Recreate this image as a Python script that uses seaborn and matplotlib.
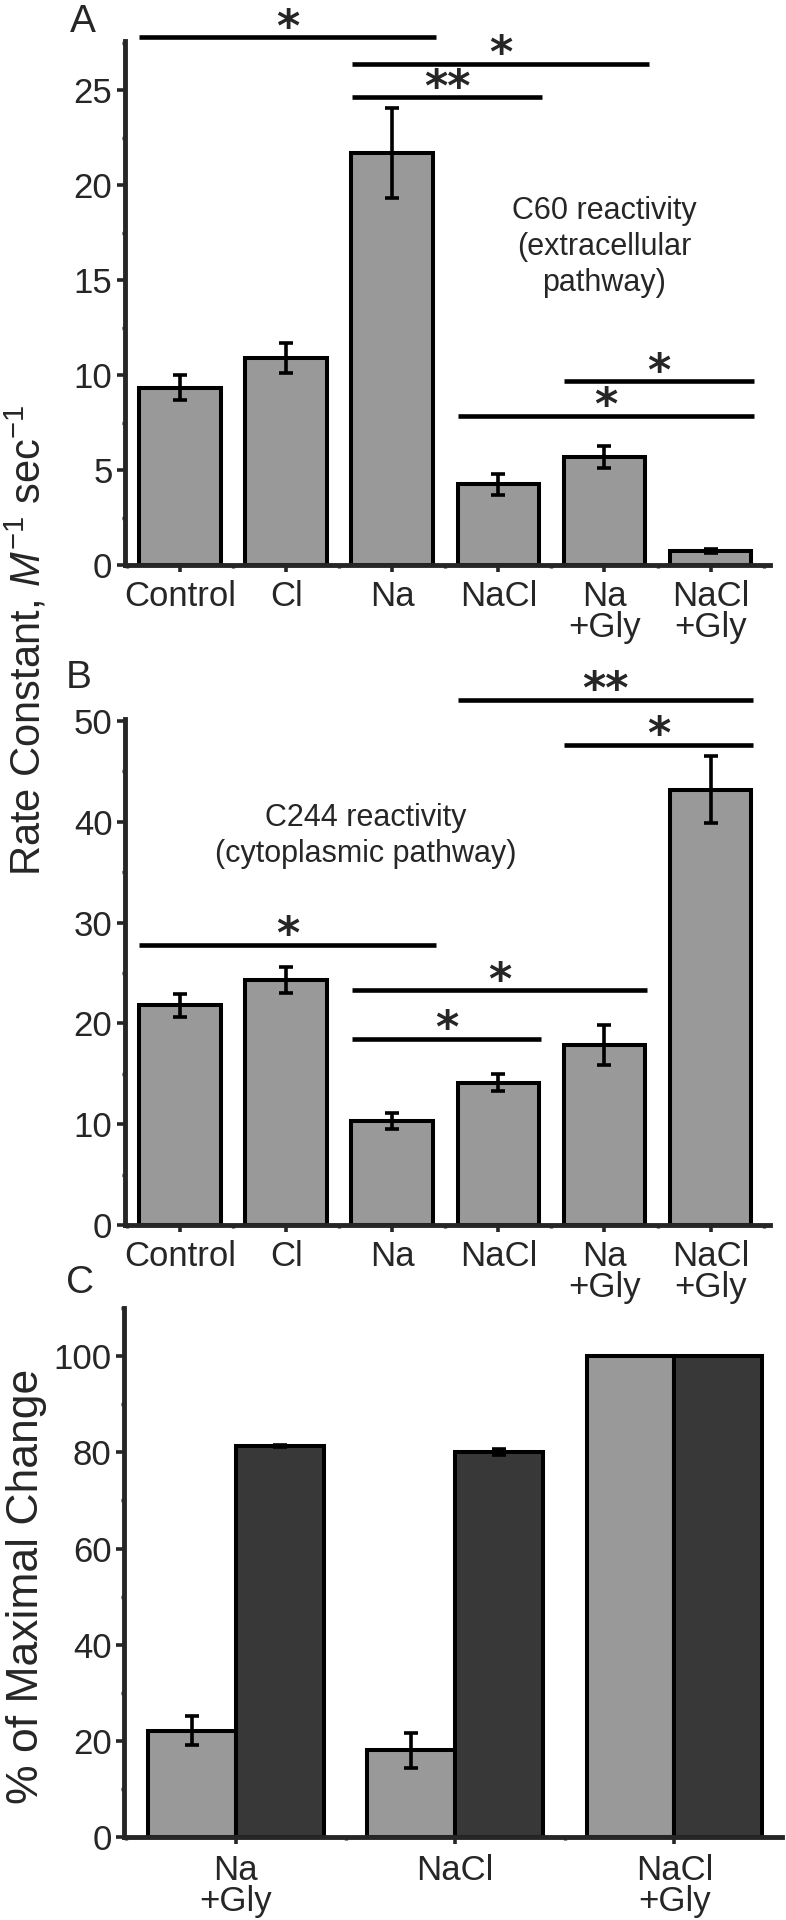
import numpy as np
import pandas as pd
import matplotlib
matplotlib.use("Agg")
import matplotlib.pyplot as plt
import seaborn as sns

# ---- data ----
conditions = ["Control", "Cl", "Na", "NaCl", "Na\n+Gly", "NaCl\n+Gly"]

# A: C60 reactivity (extracellular pathway)
c60_rate = [9.35, 10.9, 21.7, 4.25, 5.7, 0.75]
c60_err = [0.65, 0.8, 2.35, 0.55, 0.57, 0.1]

# B: C244 reactivity (cytoplasmic pathway)
c244_rate = [21.8, 24.3, 10.3, 14.1, 17.85, 43.2]
c244_err = [1.15, 1.25, 0.8, 0.85, 2.0, 3.35]

# C: % of maximal change
groups_c = ["Na\n+Gly", "NaCl", "NaCl\n+Gly"]
pathways = ["C60", "C244"]
pct_c60 = [22.1, 18.0, 100]
pct_c60_err = [3.05, 3.65, 0]
pct_c244 = [81.4, 80.1, 100]
pct_c244_err = [0.2, 0.6, 0]

# significance brackets: (from, to, height, label)
sig_a = [(-0.39, 2.41, 27.8, "*"), (1.62, 4.42, 26.4, "*"), (1.62, 3.41, 24.65, "**"),
         (3.62, 5.41, 9.68, "*"), (2.62, 5.41, 7.87, "*")]
sig_b = [(2.62, 5.40, 52.1, "**"), (3.62, 5.40, 47.66, "*"), (-0.39, 2.41, 27.8, "*"),
         (1.62, 4.40, 23.3, "*"), (1.62, 3.40, 18.5, "*")]

LIGHT = "#999999"
DARK = "#383838"
EDGE_LW = 2.9
SPINE_LW = 3.5

sns.set_theme(style="ticks")
plt.rcParams["font.family"] = ["Liberation Sans", "DejaVu Sans"]
plt.rcParams["mathtext.fontset"] = "custom"
plt.rcParams["mathtext.rm"] = "Liberation Sans"
plt.rcParams["mathtext.it"] = "Liberation Sans:italic"


def style_axis(ax, ymax, major, minor, ncat, xpad=6):
    ax.set_ylim(0, ymax)
    ax.set_xlim(-0.52, ncat - 0.44)
    ax.set_yticks(np.arange(0, ymax + 0.01, major))
    ax.set_yticks(np.arange(0, ymax + 0.01, minor), minor=True)
    ax.set_xticks(np.arange(-0.5, ncat, 1), minor=True)
    sns.despine(ax=ax)
    for s in ("left", "bottom"):
        ax.spines[s].set_linewidth(SPINE_LW)
    ax.tick_params(axis="y", which="major", length=6, width=2.6, labelsize=25, pad=3)
    ax.tick_params(axis="y", which="minor", length=2.5, width=2.4)
    ax.tick_params(axis="x", which="major", length=5, width=2.6, labelsize=25, pad=xpad)
    ax.tick_params(axis="x", which="minor", length=2.5, width=2.4)
    for lab in ax.get_xticklabels():
        lab.set_linespacing(0.92)
        lab.set_verticalalignment("top")
    ax.set_xlabel("")
    ax.set_ylabel("")


def add_sig(ax, brackets):
    fs = 32
    for x0, x1, y, lab in brackets:
        ax.plot([x0, x1], [y, y], color="black", lw=3.3, solid_capstyle="butt", clip_on=False)
        ax.annotate(lab, xy=((x0 + x1) / 2, y), xytext=(0, -2.5),
                    textcoords="offset points", ha="center", va="baseline",
                    fontsize=fs, family="DejaVu Sans", fontweight="bold",
                    annotation_clip=False)


def rate_panel(ax, values, errs, ymax, major):
    df = pd.DataFrame({"condition": conditions, "rate": values})
    sns.barplot(data=df, x="condition", y="rate", color=LIGHT, saturation=1,
                edgecolor="black", linewidth=EDGE_LW, width=0.77, errorbar=None, ax=ax)
    centers = [p.get_x() + p.get_width() / 2 for p in ax.patches]
    ax.errorbar(centers, values, yerr=errs, fmt="none", ecolor="black",
                elinewidth=2.6, capsize=5, capthick=2.6, zorder=5)
    style_axis(ax, ymax, major, major / 2, len(conditions))


fig = plt.figure(figsize=(7.86, 19.2), dpi=100)

# panel A
ax_a = fig.add_axes([0.159, 0.7057, 0.8206, 0.2729])
rate_panel(ax_a, c60_rate, c60_err, 27.6, 5)
add_sig(ax_a, sig_a)
ax_a.text(4.0, 16.75, "C60 reactivity\n(extracellular\npathway)", ha="center", va="center",
          fontsize=22, linespacing=1.25)

# panel B
ax_b = fig.add_axes([0.159, 0.362, 0.8206, 0.2635])
rate_panel(ax_b, c244_rate, c244_err, 50.2, 10)
ax_b.set_yticks(np.arange(0, 51, 10))
add_sig(ax_b, sig_b)
ax_b.text(1.75, 38.6, "C244 reactivity\n(cytoplasmic pathway)", ha="center", va="center",
          fontsize=22, linespacing=1.25)

# panel C
ax_c = fig.add_axes([0.1578, 0.0432, 0.837, 0.2755])
dfc = pd.DataFrame({
    "group": groups_c * 2,
    "pct": pct_c60 + pct_c244,
    "pathway": [pathways[0]] * 3 + [pathways[1]] * 3,
})
sns.barplot(data=dfc, x="group", y="pct", hue="pathway", hue_order=pathways,
            palette=[LIGHT, DARK], saturation=1, edgecolor="black", linewidth=EDGE_LW,
            width=0.8, errorbar=None, legend=False, ax=ax_c)
for cont, vals, errs in zip(ax_c.containers, [pct_c60, pct_c244], [pct_c60_err, pct_c244_err]):
    xs = [b.get_x() + b.get_width() / 2 for b in cont]
    ax_c.errorbar(xs, vals, yerr=errs, fmt="none", ecolor="black",
                  elinewidth=2.6, capsize=5, capthick=2.6, zorder=5)
style_axis(ax_c, 110, 20, 10, len(groups_c), xpad=7)
ax_c.set_yticks(np.arange(0, 101, 20))
ax_c.set_xlim(-0.51, 2.49)

# panel letters and shared labels
fig.text(83 / 786, 1 - 22 / 1920, "A", fontsize=28, ha="center", va="center")
fig.text(79 / 786, 1 - 678 / 1920, "B", fontsize=28, ha="center", va="center")
fig.text(80 / 786, 1 - 1283 / 1920, "C", fontsize=28, ha="center", va="center")

fig.text(4 / 786, 1 - 640 / 1920, r"Rate Constant, $\mathit{M}^{-1}$ sec$^{-1}$",
         rotation=90, fontsize=30, ha="left", va="center")
fig.text(6 / 786, 1 - 1586 / 1920, "% of Maximal Change",
         rotation=90, fontsize=32, ha="left", va="center")

fig.savefig("out.png", dpi=100)
